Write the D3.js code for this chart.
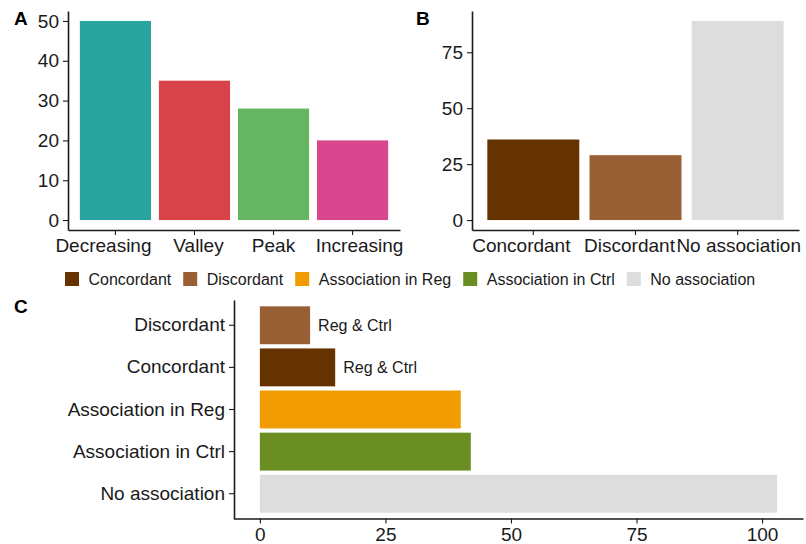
<!DOCTYPE html>
<html>
<head>
<meta charset="utf-8">
<script src="https://cdn.jsdelivr.net/npm/d3@7/dist/d3.min.js"></script>
<style>
  html, body { margin: 0; padding: 0; background: #fff; }
  svg { display: block; font-family: "Liberation Sans", Arial, sans-serif; }
  .axis text { fill: #1a1a1a; }
  .axis line, .axis path { stroke: #1a1a1a; }
</style>
</head>
<body>
<svg id="chart" width="806" height="544"></svg>
<script>
// Panel A: trend shapes
const shapeCategories = ["Decreasing", "Valley", "Peak", "Increasing"];
const shapeCounts = [50, 35, 28, 20];
const shapeColors = ["#29A39E", "#D9434A", "#66B562", "#D9478F"];
const shapeTicks = [0, 10, 20, 30, 40, 50];

// Panel B: direction of association
const assocCategories = ["Concordant", "Discordant", "No association"];
const assocCounts = [36, 29, 89];
const assocTicks = [0, 25, 50, 75];

// Panel C: association types
const typeCategories = ["Discordant", "Concordant", "Association in Reg", "Association in Ctrl", "No association"];
const typeCounts = [10, 15, 40, 42, 103];
const typeNotes = ["Reg & Ctrl", "Reg & Ctrl", "", "", ""];
const typeTicks = [0, 25, 50, 75, 100];

// Shared legend
const legendLabels = ["Concordant", "Discordant", "Association in Reg", "Association in Ctrl", "No association"];
const legendColors = ["#663300", "#996035", "#F09B00", "#6B8E23", "#DDDDDD"];

const colorOf = d3.scaleOrdinal().domain(legendLabels).range(legendColors);

// Horizontal shifts that keep crowded category labels apart (px)
const shapeLabelShift = [-12, 4, 0, 7];
const assocLabelShift = [-12, -6, 1];

const svg = d3.select("#chart");
svg.append("rect").attr("width", 806).attr("height", 544).attr("fill", "#fff");

const tickFont = 19;

// ggplot-like expansion: 5% of data range on each side
function expanded(maxVal) {
  const pad = maxVal * 0.05;
  return [-pad, maxVal + pad];
}

function styleAxis(g) {
  g.attr("class", "axis");
  g.selectAll("text").attr("font-size", tickFont);
  g.select(".domain").attr("stroke-width", 1.6);
  g.selectAll(".tick line").attr("stroke-width", 1.1);
}

function panelLetter(letter, x, y) {
  svg.append("text").attr("x", x).attr("y", y)
    .attr("font-size", 19).attr("font-weight", "bold").attr("fill", "#000")
    .text(letter);
}

// ---------- Panel A ----------
{
  const x = d3.scaleBand().domain(shapeCategories).range([68, 400])
    .paddingInner(0.1).paddingOuter(0.15);
  const y = d3.scaleLinear().domain(expanded(d3.max(shapeCounts))).range([230, 11]);

  svg.append("g").selectAll("rect").data(shapeCategories).join("rect")
    .attr("x", d => x(d)).attr("width", x.bandwidth())
    .attr("y", (d, i) => y(shapeCounts[i]))
    .attr("height", (d, i) => y(0) - y(shapeCounts[i]))
    .attr("fill", (d, i) => shapeColors[i]);

  svg.append("g").attr("transform", "translate(68,0)")
    .call(d3.axisLeft(y).tickValues(shapeTicks).tickSize(5).tickPadding(4).tickSizeOuter(0))
    .call(styleAxis);
  svg.append("g").attr("transform", "translate(0,230)")
    .call(d3.axisBottom(x).tickSize(5).tickPadding(4).tickSizeOuter(0))
    .call(styleAxis)
    .selectAll(".tick text").attr("dx", (d, i) => shapeLabelShift[i]);

  panelLetter("A", 14, 25);
}

// ---------- Panel B ----------
{
  const x = d3.scaleBand().domain(assocCategories).range([472, 799])
    .paddingInner(0.1).paddingOuter(0.15);
  const y = d3.scaleLinear().domain(expanded(d3.max(assocCounts))).range([230, 11]);

  svg.append("g").selectAll("rect").data(assocCategories).join("rect")
    .attr("x", d => x(d)).attr("width", x.bandwidth())
    .attr("y", (d, i) => y(assocCounts[i]))
    .attr("height", (d, i) => y(0) - y(assocCounts[i]))
    .attr("fill", d => colorOf(d));

  svg.append("g").attr("transform", "translate(472,0)")
    .call(d3.axisLeft(y).tickValues(assocTicks).tickSize(5).tickPadding(4).tickSizeOuter(0))
    .call(styleAxis);
  svg.append("g").attr("transform", "translate(0,230)")
    .call(d3.axisBottom(x).tickSize(5).tickPadding(4).tickSizeOuter(0))
    .call(styleAxis)
    .selectAll(".tick text").attr("dx", (d, i) => assocLabelShift[i]);

  panelLetter("B", 416, 25);
}

// ---------- Legend ----------
{
  const lg = svg.append("g").attr("class", "legend");
  let cx = 65;
  legendLabels.forEach((lab, i) => {
    lg.append("rect").attr("x", cx).attr("y", 272).attr("width", 14).attr("height", 14)
      .attr("fill", legendColors[i]);
    const t = lg.append("text").attr("x", cx + 23.5).attr("y", 279).attr("dy", "0.35em")
      .attr("font-size", 16).attr("fill", "#1a1a1a").text(lab);
    cx = cx + 23.5 + t.node().getComputedTextLength() + 12;
  });
}

// ---------- Panel C ----------
{
  const y = d3.scaleBand().domain(typeCategories).range([300, 519])
    .paddingInner(0.1).paddingOuter(0.15);
  const x = d3.scaleLinear().domain(expanded(d3.max(typeCounts))).range([234, 803]);

  svg.append("g").selectAll("rect").data(typeCategories).join("rect")
    .attr("y", d => y(d)).attr("height", y.bandwidth())
    .attr("x", x(0))
    .attr("width", (d, i) => x(typeCounts[i]) - x(0))
    .attr("fill", d => colorOf(d));

  svg.append("g").selectAll("text").data(typeCategories).join("text")
    .attr("x", (d, i) => x(typeCounts[i]) + 8)
    .attr("y", d => y(d) + y.bandwidth() / 2).attr("dy", "0.35em")
    .attr("font-size", 16).attr("fill", "#1a1a1a")
    .text((d, i) => typeNotes[i]);

  svg.append("g").attr("transform", "translate(234,0)")
    .call(d3.axisLeft(y).tickSize(5).tickPadding(4).tickSizeOuter(0))
    .call(styleAxis);
  svg.append("g").attr("transform", "translate(0,518.5)")
    .call(d3.axisBottom(x).tickValues(typeTicks).tickSize(5).tickPadding(4).tickSizeOuter(0))
    .call(styleAxis);

  panelLetter("C", 14, 313);
}
</script>
</body>
</html>
